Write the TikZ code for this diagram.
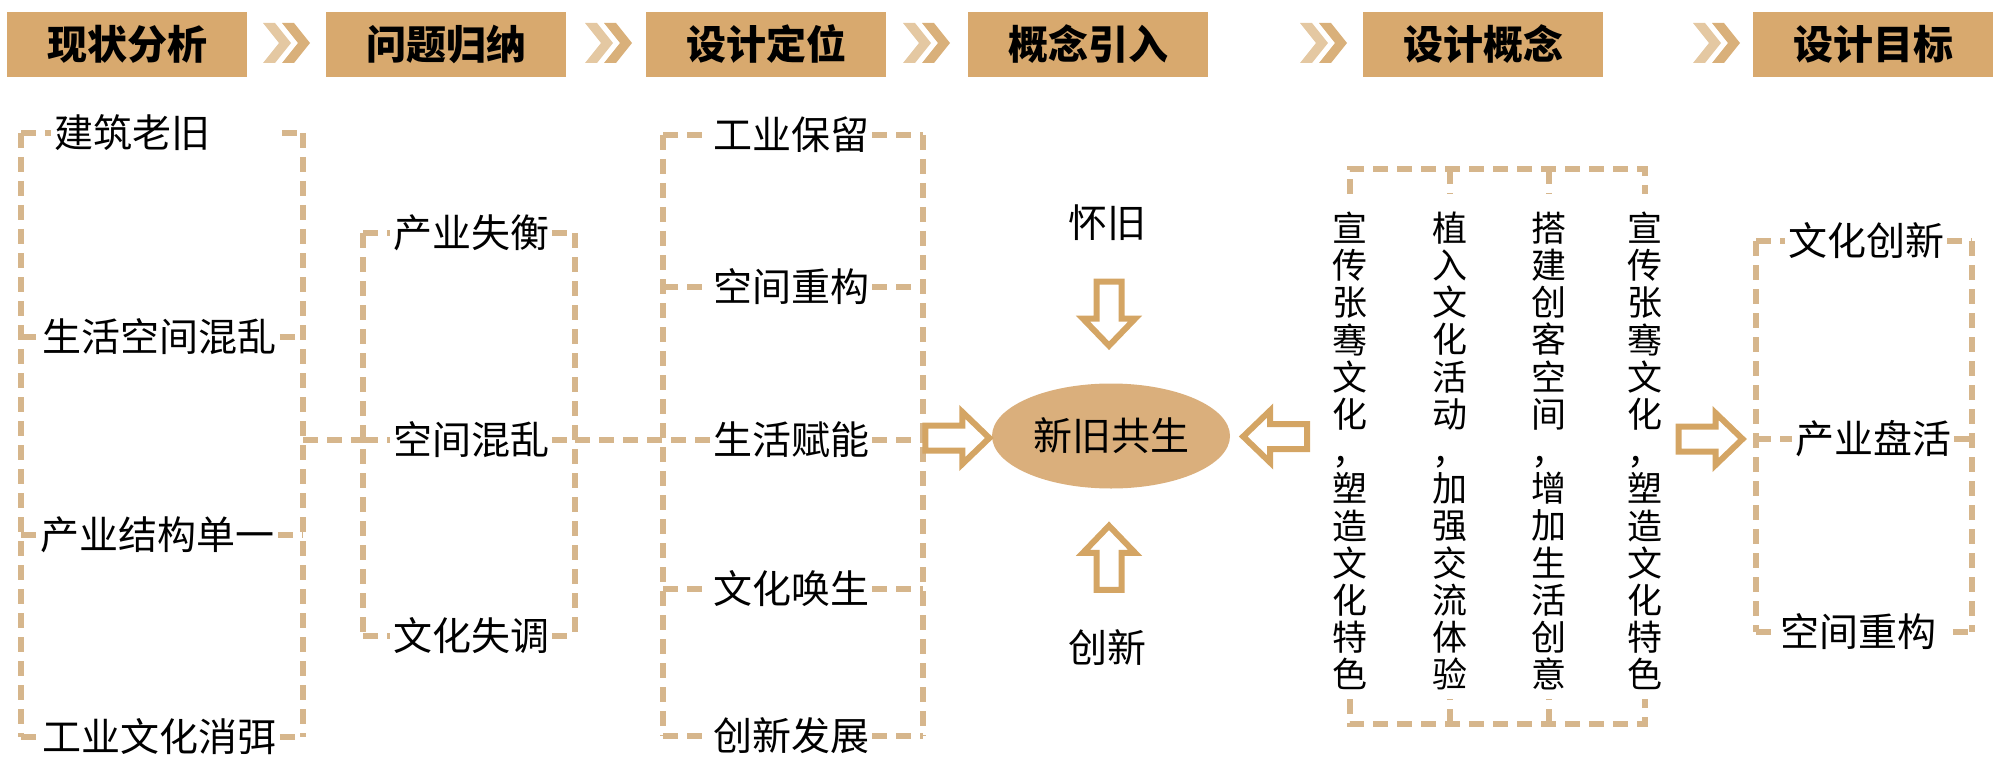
\documentclass[tikz,border=0pt]{standalone}
\usepackage{fontspec}
\newfontfamily\cjk{Noto Sans CJK SC}
\usetikzlibrary{shapes.geometric,calc}
\definecolor{boxc}{HTML}{D8A96E}
\definecolor{chevA}{HTML}{E4C8A2}
\definecolor{chevB}{HTML}{D9B07A}
\definecolor{ellc}{HTML}{DAAF7C}
\definecolor{arrc}{HTML}{D4A564}
\definecolor{dashc}{HTML}{D6B68C}
\tikzset{
 hdr/.style={fill=boxc, minimum width=120pt, minimum height=32.5pt, inner sep=0pt, font=\cjk\bfseries\fontsize{20pt}{24pt}\selectfont, text=black},
 lbl/.style={inner sep=1.5pt, font=\cjk\fontsize{19.5pt}{23pt}\selectfont, text=black},
 vlbl/.style={inner sep=0pt, align=center, font=\cjk\fontsize{17.5pt}{18.6pt}\selectfont, text=black},
 dsh/.style={draw=dashc, line width=2.6pt, dash pattern=on 7.5pt off 4.5pt},
 arrline/.style={draw=arrc, fill=white, line width=3pt, line join=miter},
}
\newcommand\barr[2]{%
  \begin{scope}[shift={#1}, rotate=#2]
   \draw[arrline] (-16pt,-6.25pt) -- (2.5pt,-6.25pt) -- (2.5pt,-13pt) -- (16pt,0pt) -- (2.5pt,13pt) -- (2.5pt,6.25pt) -- (-16pt,6.25pt) -- cycle;
  \end{scope}}
\begin{document}
\begin{tikzpicture}[x=0.5pt,y=-0.5pt]
\useasboundingbox (0,0) rectangle (2000,770);

% ---------- header row ----------
\node[hdr] (h1) at (127,44.5) {现状分析};
\node[hdr] (h2) at (446,44.5) {问题归纳};
\node[hdr] (h3) at (766,44.5) {设计定位};
\node[hdr] (h4) at (1088,44.5) {概念引入};
\node[hdr] (h5) at (1483,44.5) {设计概念};
\node[hdr] (h6) at (1873,44.5) {设计目标};
\foreach \cx in {263,585,903,1300,1693}{
  \fill[chevA] (\cx,23) -- ++(12,0) -- ++(16,20) -- ++(-16,20) -- ++(-12,0) -- ++(16,-20) -- cycle;
  \fill[chevB] (\cx+19,23) -- ++(12,0) -- ++(16,20) -- ++(-16,20) -- ++(-12,0) -- ++(16,-20) -- cycle;
}

% ---------- column 1 ----------
\coordinate (l1a) at (21,133);  \coordinate (r1a) at (303,133);
\coordinate (l1b) at (21,337);  \coordinate (r1b) at (303,337);
\coordinate (l1c) at (21,535);  \coordinate (r1c) at (303,535);
\coordinate (l1d) at (21,737);  \coordinate (r1d) at (303,737);
\coordinate (r1m) at (303,440);
\node[lbl, anchor=west] (a1) at (51,133) {建筑老旧};
\node[lbl, anchor=west] (a2) at (39,337) {生活空间混乱};
\node[lbl, anchor=west] (a3) at (37,535) {产业结构单一};
\node[lbl, anchor=west] (a4) at (39,737) {工业文化消弭};
\coordinate (a1t) at (282,133);
\draw[dsh] (l1a) -- (l1d);
\draw[dsh] (r1a) -- (r1d);
\draw[dsh] (l1a) -- (a1.west);  \draw[dsh] (a1t) -- (r1a);
\draw[dsh] (l1b) -- (a2.west);  \draw[dsh] (a2.east) -- (r1b);
\draw[dsh] (l1c) -- (a3.west);  \draw[dsh] (a3.east) -- (r1c);
\draw[dsh] (l1d) -- (a4.west);  \draw[dsh] (a4.east) -- (r1d);

% ---------- column 2 ----------
\coordinate (l2a) at (363,233); \coordinate (r2a) at (575,233);
\coordinate (l2b) at (363,440); \coordinate (r2b) at (575,440);
\coordinate (l2c) at (363,636); \coordinate (r2c) at (575,636);
\node[lbl] (b1) at (471,233) {产业失衡};
\node[lbl] (b2) at (471,440) {空间混乱};
\node[lbl] (b3) at (471,636) {文化失调};
\draw[dsh] (l2a) -- (l2c);
\draw[dsh] (r2a) -- (r2c);
\draw[dsh] (l2a) -- (b1.west);  \draw[dsh] (b1.east) -- (r2a);
\draw[dsh] (l2b) -- (b2.west);  \draw[dsh] (b2.east) -- (r2b);
\draw[dsh] (l2c) -- (b3.west);  \draw[dsh] (b3.east) -- (r2c);
\draw[dsh] (r1m) -- (l2b);

% ---------- column 3 ----------
\coordinate (l3a) at (663,135); \coordinate (r3a) at (923,135);
\coordinate (l3b) at (663,287); \coordinate (r3b) at (923,287);
\coordinate (l3c) at (663,440); \coordinate (r3c) at (923,440);
\coordinate (l3d) at (663,589); \coordinate (r3d) at (923,589);
\coordinate (l3e) at (663,736); \coordinate (r3e) at (923,736);
\node[lbl] (c1) at (791,135) {工业保留};
\node[lbl] (c2) at (791,287) {空间重构};
\node[lbl] (c3) at (791,440) {生活赋能};
\node[lbl] (c4) at (791,589) {文化唤生};
\node[lbl] (c5) at (791,736) {创新发展};
\draw[dsh] (l3a) -- (l3e);
\draw[dsh] (r3a) -- (r3e);
\draw[dsh] (l3a) -- (c1.west);  \draw[dsh] (c1.east) -- (r3a);
\draw[dsh] (l3b) -- (c2.west);  \draw[dsh] (c2.east) -- (r3b);
\draw[dsh] (c3.east) -- (r3c);
\draw[dsh] (l3d) -- (c4.west);  \draw[dsh] (c4.east) -- (r3d);
\draw[dsh] (l3e) -- (c5.west);  \draw[dsh] (c5.east) -- (r3e);
\draw[dsh] (r2b) -- (c3.west);

% ---------- concept ----------
\node[ellipse, fill=ellc, minimum width=119pt, minimum height=52.5pt, inner sep=0pt,
      font=\cjk\fontsize{19.5pt}{23pt}\selectfont] (ell) at (1111,436) {新旧共生};
\node[lbl] (hj) at (1107,223) {怀旧};
\node[lbl] (cx) at (1107,648) {创新};
\barr{($(r3c)!0.5!(ell.west)$)}{0}
\barr{($(hj.south)!0.5!(ell.north)$)}{-90}
\barr{($(ell.south)!0.5!(cx.north)$)}{90}
\coordinate (k1) at (1320,437);
\barr{($(ell.east)!0.5!(k1)$)}{180}

% ---------- design concept ----------
\coordinate (t1) at (1350,169); \coordinate (t2) at (1450,169);
\coordinate (t3) at (1549,169); \coordinate (t4) at (1645,169);
\coordinate (t1s) at (1350,194); \coordinate (t2s) at (1450,194);
\coordinate (t3s) at (1549,194); \coordinate (t4s) at (1645,194);
\coordinate (u1) at (1350,724); \coordinate (u2) at (1450,724);
\coordinate (u3) at (1549,724); \coordinate (u4) at (1645,724);
\coordinate (u1s) at (1350,699); \coordinate (u2s) at (1450,699);
\coordinate (u3s) at (1549,699); \coordinate (u4s) at (1645,699);
\draw[dsh] (t1s) -- (t1) -- (t4) -- (t4s);
\draw[dsh] (t2) -- (t2s);  \draw[dsh] (t3) -- (t3s);
\draw[dsh] (u1s) -- (u1) -- (u4) -- (u4s);
\draw[dsh] (u2) -- (u2s);  \draw[dsh] (u3) -- (u3s);
\node[vlbl] (v1) at (1350,451) {宣\\传\\张\\骞\\文\\化\\，\\塑\\造\\文\\化\\特\\色};
\node[vlbl] (v2) at (1450,451) {植\\入\\文\\化\\活\\动\\，\\加\\强\\交\\流\\体\\验};
\node[vlbl] (v3) at (1549,451) {搭\\建\\创\\客\\空\\间\\，\\增\\加\\生\\活\\创\\意};
\node[vlbl] (v4) at (1645,451) {宣\\传\\张\\骞\\文\\化\\，\\塑\\造\\文\\化\\特\\色};

% ---------- design goal ----------
\coordinate (l6a) at (1756,241); \coordinate (r6a) at (1972,241);
\coordinate (l6b) at (1756,439); \coordinate (r6b) at (1972,439);
\coordinate (l6c) at (1756,632); \coordinate (r6c) at (1972,632);
\node[lbl] (g1) at (1866,241) {文化创新};
\node[lbl] (g2) at (1873,439) {产业盘活};
\node[lbl] (g3) at (1858,632) {空间重构};
\coordinate (g3t) at (1953,632);
\draw[dsh] (l6a) -- (l6c);
\draw[dsh] (r6a) -- (r6c);
\draw[dsh] (l6a) -- (g1.west);  \draw[dsh] (g1.east) -- (r6a);
\draw[dsh] (l6b) -- (g2.west);  \draw[dsh] (g2.east) -- (r6b);
\draw[dsh] (l6c) -- (g3.west);  \draw[dsh] (g3t) -- (r6c);
\coordinate (k2) at (1665,439);
\barr{($(k2)!0.5!(l6b)$)}{0}
\end{tikzpicture}
\end{document}
